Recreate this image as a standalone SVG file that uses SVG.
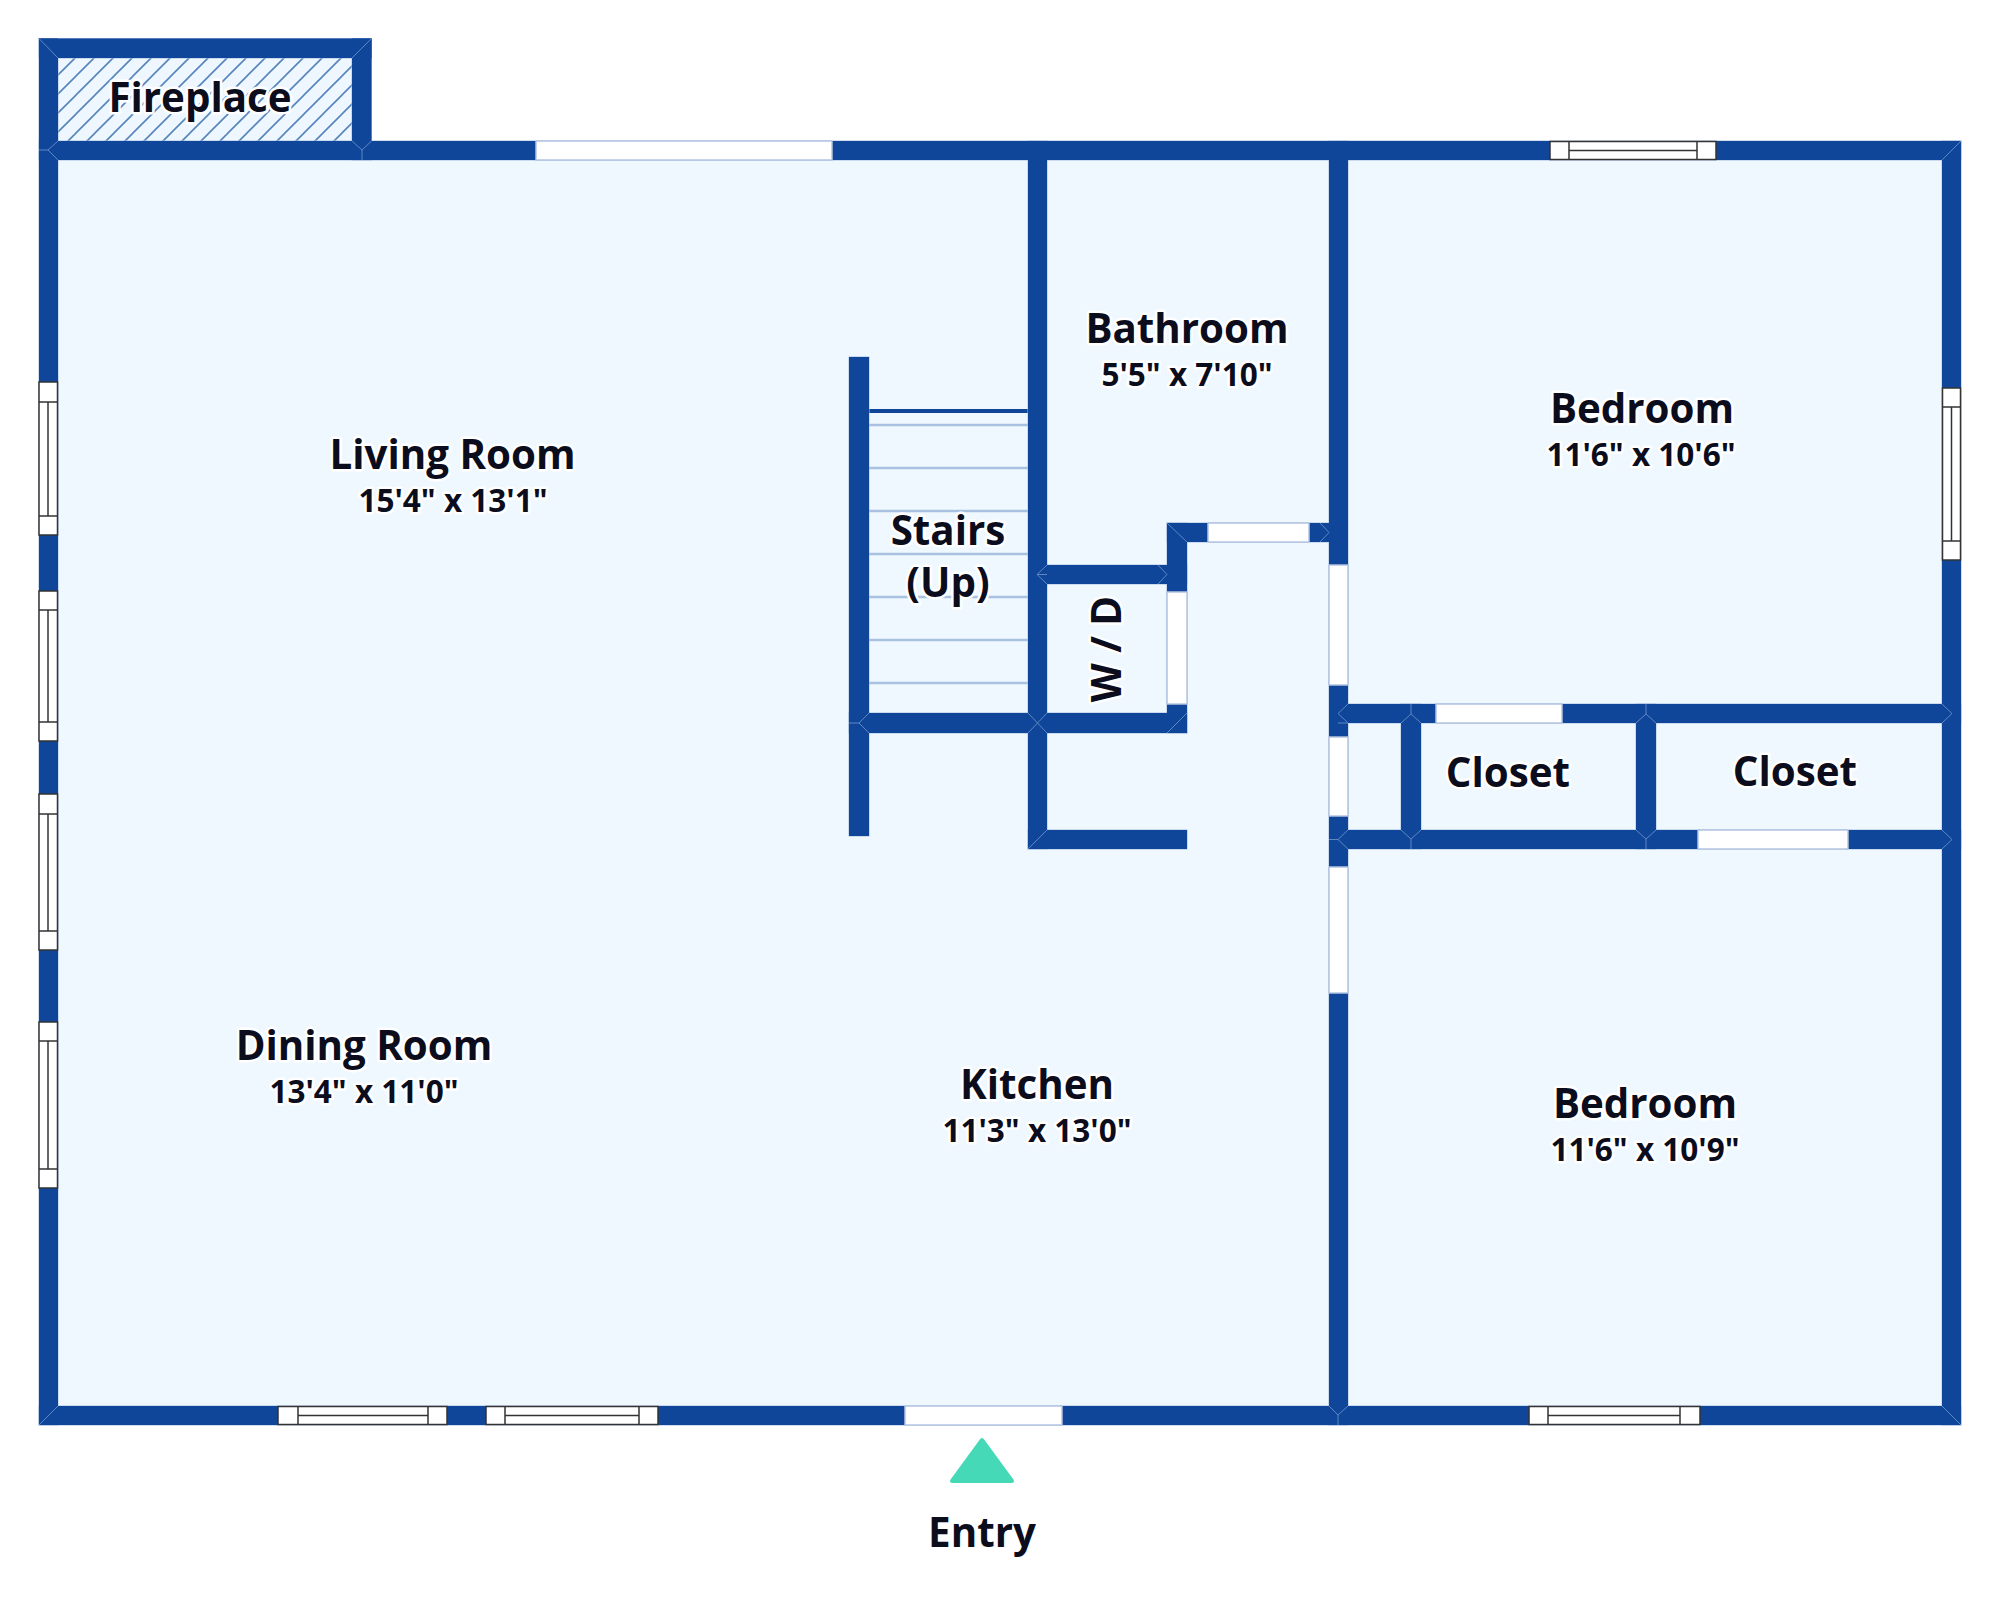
<svg xmlns="http://www.w3.org/2000/svg" xmlns:xlink="http://www.w3.org/1999/xlink" width="2000" height="1597" viewBox="0 0 2000 1597">
<style>
text{font-family:"Open Sans","Noto Sans","DejaVu Sans",sans-serif;font-weight:700;fill:#0b0d1c;text-anchor:middle;paint-order:stroke;stroke:#fff;stroke-width:5px;stroke-linejoin:round}
.t{font-size:40.3px}
.s{font-size:31.500px}
.wall{fill:#0f4699}
.edge{fill:#0f4699;stroke:#a3bbdf;stroke-width:1}
.door{fill:#fff;stroke:#b4c4e0;stroke-width:1.5}
.win{fill:#fff;stroke:#333;stroke-width:1.5}
.miter{fill:none;stroke:#5f86c2;stroke-width:1}
.step{stroke:#a9c1e0;stroke-width:2.5}
</style>
<defs>
<pattern id="hatch" patternUnits="userSpaceOnUse" width="19" height="19">
<rect width="19" height="19" fill="#eef7ff"/>
<path d="M-2 2L2 -2M0 19L19 0M17 21L21 17" stroke="#5585bd" stroke-width="1.600"/>
</pattern>
<g id="walls">
<rect x="39" y="38.500" width="332.500" height="19.500"/>
<rect x="39" y="38.500" width="19" height="1386.500"/>
<rect x="352" y="38.500" width="19.500" height="121.500"/>
<rect x="39" y="141" width="1922" height="19"/>
<rect x="39" y="1406" width="1922" height="19"/>
<rect x="1942" y="141" width="19" height="1284"/>
<rect x="1028" y="141" width="19" height="708"/>
<rect x="1028" y="830" width="159" height="19"/>
<rect x="849" y="357" width="20" height="479"/>
<rect x="849" y="713" width="338" height="20"/>
<rect x="1047" y="565" width="140" height="19"/>
<rect x="1167" y="523" width="20" height="210"/>
<rect x="1167" y="523" width="162" height="19"/>
<rect x="1329" y="141" width="19" height="1284"/>
<rect x="1348" y="704" width="613" height="19"/>
<rect x="1348" y="830" width="613" height="19"/>
<rect x="1401" y="704" width="20" height="145"/>
<rect x="1636" y="704" width="20" height="145"/>
</g>
</defs>
<rect id="background" width="2000" height="1597" fill="#fff"/>
<rect id="floor" x="39" y="141" width="1922" height="1284" fill="#f0f8ff"/>
<rect id="fireplace-hearth" x="58" y="58" width="294" height="83" fill="url(#hatch)"/>
<g id="stairs">
<path class="step" d="M869 425H1028M869 468H1028M869 511H1028M869 554H1028M869 597H1028M869 640H1028M869 683H1028"/>
<rect x="869" y="409" width="159" height="4" fill="#0f4699"/>
</g>
<use id="wall-edges" xlink:href="#walls" href="#walls" class="edge"/>
<use id="wall-fill" xlink:href="#walls" href="#walls" class="wall"/>
<path id="wall-joins" class="miter" d="M39 38.500L58 58M371.500 38.500L352 58M39 150H48L58 141M48 150L58 160M362 160V150L352 141M362 150L371.500 141M1942 160L1961 141M39 1425L58 1406M1961 1425L1942 1406M849 723H859L869 713M859 723L869 733M1028 733L1047 713M1028 713L1047 733M1167 733L1187 713M1028 849L1047 830M1167 523L1187 542M1047 574.500H1037L1047 565M1037 574.500L1047 584M1158 565L1167 574.500L1158 584M1320 523L1329 532.500L1320 542M1338 723H1348M1338 713.500L1348 704M1338 713.500L1348 723M1338 839.500L1348 830M1338 839.500L1348 849M1329 839.500H1338M1952 713.500L1942 704M1952 713.500L1942 723M1952 839.500L1942 830M1952 839.500L1942 849M1411 704V714L1401 723M1411 714L1421 723M1411 849V839L1401 830M1411 839L1421 830M1646 704V714L1636 723M1646 714L1656 723M1646 849V839L1636 830M1646 839L1656 830M1338 1425V1415L1329 1406M1338 1415L1348 1406"/>
<g id="doors">
<rect class="door" x="536" y="141" width="296" height="19"/>
<rect class="door" x="905" y="1406" width="157" height="19"/>
<rect class="door" x="1208" y="523" width="101" height="19"/>
<rect class="door" x="1167" y="592" width="20" height="112"/>
<rect class="door" x="1329" y="565" width="19" height="120"/>
<rect class="door" x="1329" y="737" width="19" height="79"/>
<rect class="door" x="1329" y="867" width="19" height="126"/>
<rect class="door" x="1436" y="704" width="126" height="19"/>
<rect class="door" x="1698" y="830" width="150" height="19"/>
</g>
<g id="windows">
<g id="window-left-1"><rect class="win" x="39" y="382" width="18.500" height="153"/><path class="win" d="M39 402H57.500M39 516H57.500M48 402V516"/></g>
<g id="window-left-2"><rect class="win" x="39" y="591" width="18.500" height="150"/><path class="win" d="M39 610H57.500M39 722H57.500M48 610V722"/></g>
<g id="window-left-3"><rect class="win" x="39" y="794" width="18.500" height="156"/><path class="win" d="M39 814H57.500M39 931H57.500M48 814V931"/></g>
<g id="window-left-4"><rect class="win" x="39" y="1022" width="18.500" height="166"/><path class="win" d="M39 1041H57.500M39 1169H57.500M48 1041V1169"/></g>
<g id="window-right"><rect class="win" x="1942.500" y="388" width="18" height="172"/><path class="win" d="M1942.500 407H1960.500M1942.500 541H1960.500M1951.500 407V541"/></g>
<g id="window-top"><rect class="win" x="1550" y="141.500" width="166" height="18"/><path class="win" d="M1569 141.500V159.500M1697 141.500V159.500M1569 150.500H1697"/></g>
<g id="window-bottom-1"><rect class="win" x="278" y="1406.500" width="169" height="18"/><path class="win" d="M298 1406.500V1424.500M428 1406.500V1424.500M298 1415.500H428"/></g>
<g id="window-bottom-2"><rect class="win" x="486" y="1406.500" width="172" height="18"/><path class="win" d="M505 1406.500V1424.500M639 1406.500V1424.500M505 1415.500H639"/></g>
<g id="window-bottom-3"><rect class="win" x="1529" y="1406.500" width="171" height="18"/><path class="win" d="M1548 1406.500V1424.500M1680 1406.500V1424.500M1548 1415.500H1680"/></g>
</g>
<path id="entry-marker" d="M982 1440L1012 1481H952Z" fill="#45d9b7" stroke="#45d9b7" stroke-width="4" stroke-linejoin="round"/>
<g id="labels">
<g id="fireplace"><text class="t" x="200" y="112">Fireplace</text></g>
<g id="living-room"><text class="t" x="452.500" y="469">Living Room</text><text class="s" x="453" y="512">15'4" x 13'1"</text></g>
<g id="bathroom"><text class="t" x="1187" y="343">Bathroom</text><text class="s" x="1187" y="386">5'5" x 7'10"</text></g>
<g id="bedroom-1"><text class="t" x="1642" y="423">Bedroom</text><text class="s" x="1641" y="466">11'6" x 10'6"</text></g>
<g id="stairs-label"><text class="t" x="948" y="545">Stairs</text><text class="t" x="948" y="597">(Up)</text></g>
<g id="wd"><text class="t" transform="translate(1121 649) rotate(-90)">W / D</text></g>
<g id="closet-1"><text class="t" x="1508" y="787">Closet</text></g>
<g id="closet-2"><text class="t" x="1795" y="786">Closet</text></g>
<g id="dining-room"><text class="t" x="364" y="1060">Dining Room</text><text class="s" x="364" y="1103">13'4" x 11'0"</text></g>
<g id="kitchen"><text class="t" x="1037" y="1099">Kitchen</text><text class="s" x="1037" y="1142">11'3" x 13'0"</text></g>
<g id="bedroom-2"><text class="t" x="1645" y="1118">Bedroom</text><text class="s" x="1645" y="1161">11'6" x 10'9"</text></g>
<g id="entry"><text class="t" x="982" y="1547">Entry</text></g>
</g>
</svg>
